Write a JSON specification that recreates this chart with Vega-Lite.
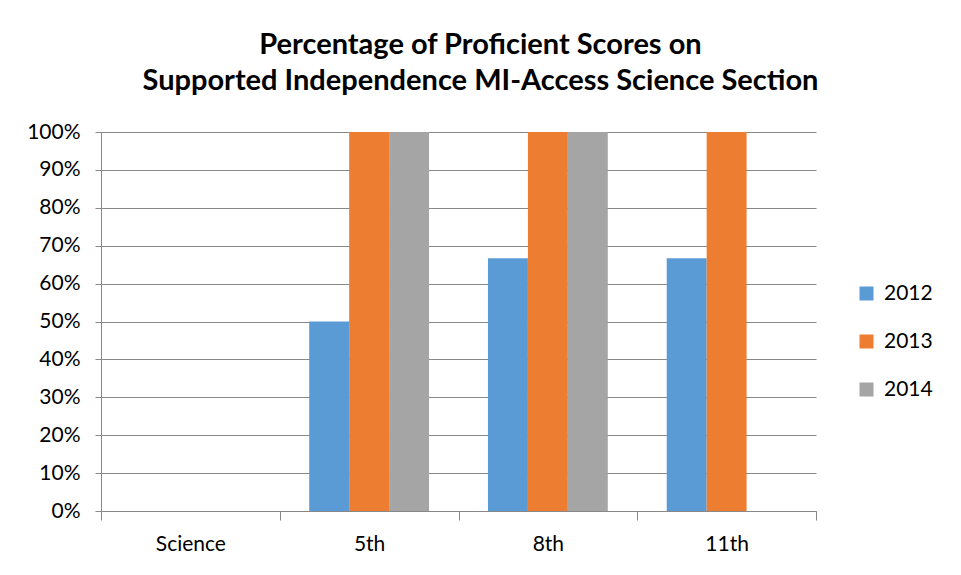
{
  "$schema": "https://vega.github.io/schema/vega-lite/v6.json",
  "width": 715,
  "height": 379,
  "autosize": {"type": "none"},
  "padding": {"left": 101, "top": 132, "right": 145, "bottom": 64},
  "background": "white",
  "title": {
    "text": ["Percentage of Proficient Scores on", "Supported Independence MI-Access Science Section"],
    "font": "Lato",
    "fontSize": 29,
    "fontWeight": "bold",
    "color": "#000000",
    "anchor": "middle",
    "dx": 22,
    "offset": 25,
    "lineHeight": 36
  },
  "data": {
    "values": [
      {"grade": "5th", "year": "2012", "value": 0.5},
      {"grade": "5th", "year": "2013", "value": 1.0},
      {"grade": "5th", "year": "2014", "value": 1.0},
      {"grade": "8th", "year": "2012", "value": 0.6667},
      {"grade": "8th", "year": "2013", "value": 1.0},
      {"grade": "8th", "year": "2014", "value": 1.0},
      {"grade": "11th", "year": "2012", "value": 0.6667},
      {"grade": "11th", "year": "2013", "value": 1.0}
    ]
  },
  "mark": {"type": "bar"},
  "encoding": {
    "x": {
      "field": "grade",
      "type": "nominal",
      "sort": null,
      "scale": {"domain": ["Science", "5th", "8th", "11th"], "paddingInner": 0, "paddingOuter": 0},
      "axis": {
        "title": null,
        "labelAngle": 0,
        "tickBand": "extent",
        "labelFont": "Lato",
        "labelFontSize": 21,
        "labelColor": "#000000",
        "labelPadding": 13,
        "domainColor": "#888888",
        "tickColor": "#888888",
        "tickSize": 9,
        "grid": false
      }
    },
    "xOffset": {
      "field": "year",
      "type": "nominal",
      "scale": {"domain": ["2012", "2013", "2014"], "paddingInner": 0, "paddingOuter": 0.7375}
    },
    "y": {
      "field": "value",
      "type": "quantitative",
      "scale": {"domain": [0, 1], "nice": false},
      "axis": {
        "title": null,
        "format": ".0%",
        "values": [0, 0.1, 0.2, 0.3, 0.4, 0.5, 0.6, 0.7, 0.8, 0.9, 1.0],
        "labelFont": "Lato",
        "labelFontSize": 21,
        "labelColor": "#000000",
        "labelPadding": 15,
        "domain": true,
        "domainColor": "#888888",
        "ticks": true,
        "tickSize": 6,
        "tickColor": "#888888",
        "grid": true,
        "gridColor": "#888888"
      }
    },
    "color": {
      "field": "year",
      "type": "nominal",
      "scale": {"domain": ["2012", "2013", "2014"], "range": ["#5B9BD5", "#ED7D31", "#A5A5A5"]},
      "legend": {
        "title": null,
        "orient": "none",
        "legendX": 755,
        "legendY": 151,
        "padding": 0,
        "symbolType": "square",
        "symbolSize": 196,
        "symbolStrokeWidth": 0,
        "labelFont": "Lato",
        "labelFontSize": 21,
        "labelColor": "#000000",
        "labelOffset": 7,
        "rowPadding": 26
      }
    }
  },
  "config": {"view": {"stroke": null}}
}
